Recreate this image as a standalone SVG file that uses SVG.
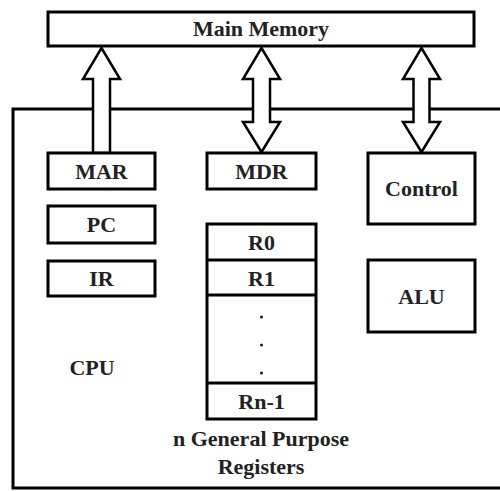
<svg xmlns="http://www.w3.org/2000/svg" width="500" height="491" viewBox="0 0 500 491">
<style>
.box{fill:#fff;stroke:#000;stroke-width:3}
.arr{fill:#fff;stroke:#000;stroke-width:2.5;stroke-linejoin:miter}
</style>
<rect width="500" height="491" fill="#fff"/>
<g font-family="Liberation Serif, Times New Roman, Times, serif" font-weight="bold" font-size="22" fill="#222" text-anchor="middle">
<g id="cpu">
<rect class="box" x="13" y="109" width="500" height="379"/>
<text x="92" y="375">CPU</text>
</g>
<g id="main-memory">
<rect class="box" x="48" y="12" width="426" height="34"/>
<text x="261" y="36">Main Memory</text>
</g>
<g id="connectors">
<polygon class="arr" points="101.5,48 120,79 110,79 110,153 93,153 93,79 83,79"/>
<polygon class="arr" points="261.5,48 280,79 270,79 270,122 280,122 261.5,152 243,122 253,122 253,79 243,79"/>
<polygon class="arr" points="421.5,48 440,79 429.5,79 429.5,122 440,122 421.5,152 403,122 413.5,122 413.5,79 403,79"/>
</g>
<g id="mar">
<rect class="box" x="48" y="153" width="107" height="36"/>
<text x="101.5" y="179">MAR</text>
</g>
<g id="pc">
<rect class="box" x="48" y="206" width="107" height="37"/>
<text x="101.5" y="232">PC</text>
</g>
<g id="ir">
<rect class="box" x="48" y="261" width="107" height="35"/>
<text x="101.5" y="286">IR</text>
</g>
<g id="mdr">
<rect class="box" x="207" y="153" width="109" height="36"/>
<text x="261.5" y="179">MDR</text>
</g>
<g id="registers">
<rect class="box" x="207" y="224" width="109" height="195"/>
<line x1="207" y1="260" x2="316" y2="260" stroke="#000" stroke-width="3"/>
<line x1="207" y1="295" x2="316" y2="295" stroke="#000" stroke-width="3"/>
<line x1="207" y1="383" x2="316" y2="383" stroke="#000" stroke-width="3"/>
<text x="261.5" y="250">R0</text>
<text x="261.5" y="286">R1</text>
<circle cx="261.5" cy="317" r="1.6" fill="#222"/>
<circle cx="261.5" cy="345" r="1.6" fill="#222"/>
<circle cx="261.5" cy="373" r="1.6" fill="#222"/>
<text x="261.5" y="409">Rn-1</text>
<text x="261" y="446">n General Purpose</text>
<text x="261" y="474">Registers</text>
</g>
<g id="control">
<rect class="box" x="368" y="153" width="107" height="71"/>
<text x="421.5" y="196">Control</text>
</g>
<g id="alu">
<rect class="box" x="368" y="260" width="107" height="72"/>
<text x="421.5" y="304">ALU</text>
</g>
</g>
</svg>
